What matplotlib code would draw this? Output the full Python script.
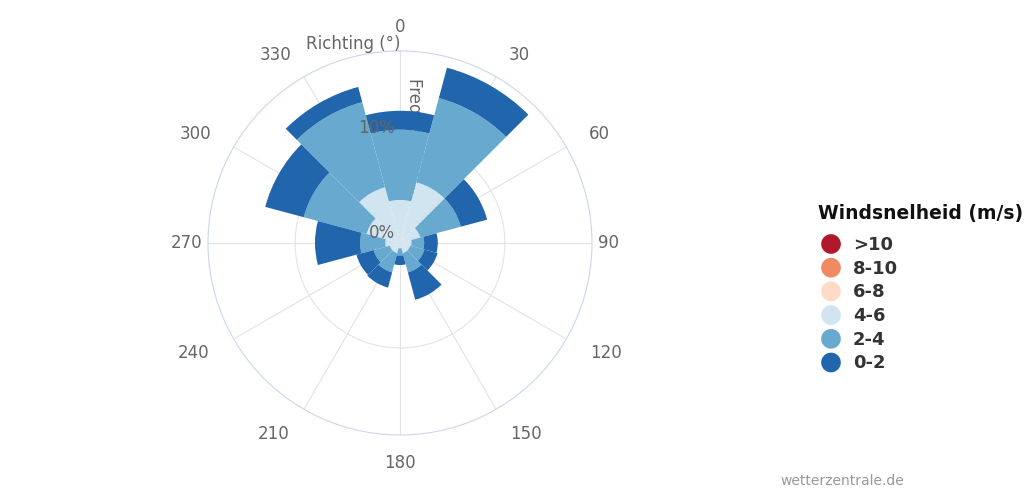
import matplotlib.pyplot as plt
import numpy as np

# wind rose: frequency (%) per direction, stacked by wind speed class
directions = [0, 30, 60, 90, 120, 150, 180, 210, 240, 270, 300, 330]
speed_labels = ['>10', '8-10', '6-8', '4-6', '2-4', '0-2']
speed_colors = ['#b2182b', '#ef8a62', '#fddbc7', '#d1e5f0', '#67a9cf', '#2166ac']

freq_gt10 = [0, 0, 0, 0, 0, 0, 0, 0, 0, 0, 0, 0]
freq_8_10 = [0, 0, 0, 0, 0, 0, 0, 0, 0, 0, 0, 0]
freq_6_8 = [0.1, 0.6, 0, 0, 0, 0, 0, 0, 0, 0, 0, 0.1]
freq_4_6 = [4.0, 5.4, 2.0, 1.1, 1.0, 1.0, 0.5, 1.0, 1.0, 1.4, 3.3, 5.4]
freq_2_4 = [6.7, 8.3, 4.0, 1.2, 1.4, 1.9, 0.7, 1.9, 1.6, 2.4, 6.2, 8.4]
freq_0_2 = [1.8, 3.0, 2.6, 1.3, 1.3, 2.7, 0.9, 1.5, 1.7, 4.3, 3.8, 1.5]

series = [freq_gt10, freq_8_10, freq_6_8, freq_4_6, freq_2_4, freq_0_2]

W, H = 1024, 495
fig = plt.figure(figsize=(W / 100, H / 100), dpi=100)
cx, cy, R = 400, 243, 192
ax = fig.add_axes([(cx - R) / W, (H - cy - R) / H, 2 * R / W, 2 * R / H], projection='polar')
ax.set_theta_zero_location('N')
ax.set_theta_direction(-1)
rmax = 18.3
ax.set_ylim(0, rmax)

theta = np.deg2rad(directions)
width = np.deg2rad(30)
bottom = np.zeros(len(directions))
for vals, col in zip(series, speed_colors):
    v = np.array(vals, float)
    ax.bar(theta, v, width=width, bottom=bottom, color=col, linewidth=0, zorder=3)
    bottom += v

ax.set_xticks(theta)
ax.set_xticklabels([])
ax.set_yticks([10])
ax.set_yticklabels([])
ax.grid(True, color='#e3e3e3', linewidth=0.8)
ax.set_axisbelow(True)
ax.spines['polar'].set_color('#ccd6eb')
ax.spines['polar'].set_linewidth(0.8)

grey = '#666666'
px = rmax / R  # data units per pixel
for d in directions:
    t = np.deg2rad(d)
    s, c = np.sin(t), np.cos(t)
    off = (28 - 4 * max(c, 0)) if abs(c) > 0.1 else 6
    ha = 'left' if s > 0.3 else ('right' if s < -0.3 else 'center')
    ax.text(t, rmax + off * px, str(d), ha=ha, va='center', color=grey,
            fontsize=12, clip_on=False)

ax.annotate('Richting (°)', xy=(0, rmax), xytext=(0, 7), textcoords='offset pixels',
            ha='right', va='center', color=grey, fontsize=12, zorder=5)
for r in [0, 10]:
    ax.annotate(f'{r}%', xy=(0, r), xytext=(-5, 10), textcoords='offset pixels',
                ha='right', va='center', color=grey, fontsize=12, zorder=5)
# y axis title, mostly hidden behind the north bar
ax.annotate('Frequentie (%)', xy=(414, H - 78), xycoords='figure pixels', rotation=270,
            ha='center', va='top', color=grey, fontsize=12, zorder=1)

# legend
lax = fig.add_axes([0, 0, 1, 1], zorder=5)
lax.set_xlim(0, W)
lax.set_ylim(H, 0)
lax.axis('off')
lax.text(818, 213, 'Windsnelheid (m/s)', fontsize=13.5, fontweight='bold', color='#111111',
         ha='left', va='center')
for i, (lab, col) in enumerate(zip(speed_labels, speed_colors)):
    y = 244 + i * 23.7
    lax.scatter([831], [y], s=200, color=col, edgecolors='none')
    lax.text(853, y + 1, lab, fontsize=13, fontweight='bold', color='#333333',
             ha='left', va='center')

fig.text(780 / W, 1 - 481 / H, 'wetterzentrale.de', fontsize=10, color='#999999',
         ha='left', va='center')

fig.savefig('out.png', dpi=100)
